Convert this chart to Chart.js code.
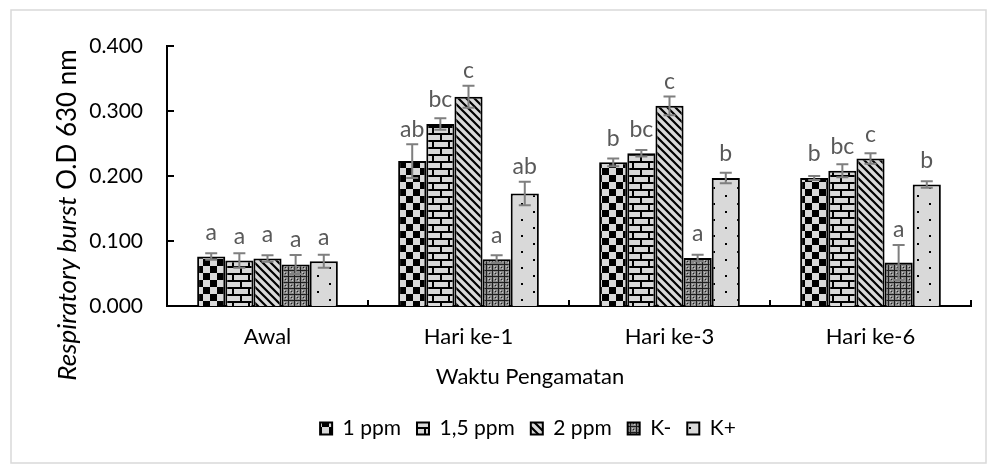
<!DOCTYPE html>
<html>
<head>
<meta charset="utf-8">
<script src="https://cdn.jsdelivr.net/npm/chart.js@4.4.0/dist/chart.umd.min.js"></script>
<style>
  html, body { margin: 0; padding: 0; background: #fff; }
  #wrap { width: 997px; height: 465px; }
</style>
</head>
<body>
<div id="wrap"><canvas id="chart" width="997" height="465"></canvas></div>
<script>
// data
const categories = ['Awal', 'Hari ke-1', 'Hari ke-3', 'Hari ke-6'];
const seriesNames = ['1 ppm', '1,5 ppm', '2 ppm', 'K-', 'K+'];

const ppm1   = [0.076, 0.223, 0.221, 0.197];
const ppm15  = [0.070, 0.280, 0.235, 0.208];
const ppm2   = [0.073, 0.322, 0.308, 0.227];
const kMinus = [0.064, 0.072, 0.074, 0.067];
const kPlus  = [0.069, 0.173, 0.197, 0.187];

const err1      = [0.005, 0.026, 0.006, 0.003];
const err15     = [0.011, 0.009, 0.005, 0.010];
const err2      = [0.005, 0.017, 0.0145, 0.008];
const errKMinus = [0.0146, 0.006, 0.005, 0.027];
const errKPlus  = [0.010, 0.018, 0.008, 0.005];

const lbl1      = ['a', 'ab', 'b', 'b'];
const lbl15     = ['a', 'bc', 'bc', 'bc'];
const lbl2      = ['a', 'c', 'c', 'c'];
const lblKMinus = ['a', 'a', 'a', 'a'];
const lblKPlus  = ['a', 'ab', 'b', 'b'];

const yTicks = [0, 0.1, 0.2, 0.3, 0.4];

const FONT = 'Lato';
const LIGHT = '#d9d9d9';

// fill patterns
function makePattern(w, h, draw) {
    const c = document.createElement('canvas');
    c.width = w; c.height = h;
    const g = c.getContext('2d');
    draw(g, w, h);
    return g.createPattern(c, 'repeat');
}

const patChecker = makePattern(14, 14, (g) => {
    g.fillStyle = LIGHT; g.fillRect(0, 0, 14, 14);
    g.fillStyle = '#000';
    g.fillRect(0, 0, 7, 7);
    g.fillRect(7, 7, 7, 7);
});

const patBrick = makePattern(16, 14, (g) => {
    g.fillStyle = LIGHT; g.fillRect(0, 0, 16, 14);
    g.fillStyle = '#000';
    g.fillRect(0, 0, 16, 2);
    g.fillRect(0, 7, 16, 2);
    g.fillRect(0, 0, 2, 7);
    g.fillRect(8, 7, 2, 7);
});

const patDiag = makePattern(8, 8, (g) => {
    g.fillStyle = LIGHT; g.fillRect(0, 0, 8, 8);
    g.strokeStyle = '#000'; g.lineWidth = 2.2;
    g.beginPath();
    g.moveTo(-2, -2); g.lineTo(10, 10);
    g.moveTo(-2, 6); g.lineTo(2, 10);
    g.moveTo(6, -2); g.lineTo(10, 2);
    g.stroke();
});

const patSphere = makePattern(6, 6, (g) => {
    g.fillStyle = '#8a8a8a'; g.fillRect(0, 0, 6, 6);
    g.fillStyle = '#1e1e1e';
    g.fillRect(0, 0, 6, 1);
    g.fillRect(0, 0, 1, 6);
    g.fillRect(3, 3, 1, 1);
    g.fillStyle = '#c8c8c8';
    g.fillRect(2, 2, 1, 1);
    g.fillRect(4, 4, 1, 1);
});

const patDots = makePattern(24, 16, (g) => {
    g.fillStyle = LIGHT; g.fillRect(0, 0, 24, 16);
    g.fillStyle = '#000';
    g.fillRect(5, 3, 2, 2);
    g.fillRect(17, 11, 2, 2);
});

const values   = [ppm1, ppm15, ppm2, kMinus, kPlus];
const errors   = [err1, err15, err2, errKMinus, errKPlus];
const letters  = [lbl1, lbl15, lbl2, lblKMinus, lblKPlus];
const patterns = [patChecker, patBrick, patDiag, patSphere, patDots];

const datasets = seriesNames.map((name, i) => ({
    label: name,
    data: values[i],
    backgroundColor: patterns[i],
    borderColor: '#000',
    borderWidth: 2,
    borderSkipped: 'bottom',
    categoryPercentage: 0.7,
    barPercentage: 1.0
}));

// error bars, significance letters, inner ticks, frame and titles
const decorPlugin = {
    id: 'decor',
    beforeDraw(chart) {
        const c = chart.ctx;
        c.save();
        c.fillStyle = '#fff';
        c.fillRect(0, 0, chart.width, chart.height);
        c.strokeStyle = '#d9d9d9';
        c.lineWidth = 1.5;
        c.strokeRect(11, 10, chart.width - 22, chart.height - 12);
        c.restore();
    },
    afterDatasetsDraw(chart) {
        const c = chart.ctx;
        const y = chart.scales.y;
        c.save();
        chart.data.datasets.forEach((ds, di) => {
            const meta = chart.getDatasetMeta(di);
            meta.data.forEach((bar, i) => {
                const v = ds.data[i];
                const e = errors[di][i];
                const top = y.getPixelForValue(v + e);
                const bottom = y.getPixelForValue(v - e);
                c.strokeStyle = '#7f7f7f';
                c.lineWidth = 2;
                c.beginPath();
                c.moveTo(bar.x, top); c.lineTo(bar.x, bottom);
                c.moveTo(bar.x - 6, top); c.lineTo(bar.x + 6, top);
                c.moveTo(bar.x - 6, bottom); c.lineTo(bar.x + 6, bottom);
                c.stroke();

                const ly = Math.min(bar.y - 24, top - 15);
                c.fillStyle = '#595959';
                c.font = '23px ' + FONT;
                c.textAlign = 'center';
                c.textBaseline = 'middle';
                c.fillText(letters[di][i], bar.x, ly);
            });
        });
        c.restore();
    },
    afterDraw(chart) {
        const c = chart.ctx;
        const x = chart.scales.x;
        const y = chart.scales.y;
        const area = chart.chartArea;
        c.save();
        c.strokeStyle = '#000';
        c.lineWidth = 2;
        c.beginPath();
        yTicks.slice(1).forEach(t => {
            const py = y.getPixelForValue(t);
            c.moveTo(area.left, py); c.lineTo(area.left + 7, py);
        });
        for (let i = 1; i <= categories.length; i++) {
            const px = x.getPixelForValue(i - 0.5);
            c.moveTo(px, area.bottom); c.lineTo(px, area.bottom - 6);
        }
        c.stroke();

        // y title: italic part + normal part
        const it = 'Respiratory burst';
        const nt = ' O.D 630 nm';
        c.fillStyle = '#000';
        c.translate(76, 215);
        c.rotate(-Math.PI / 2);
        c.textBaseline = 'alphabetic';
        c.textAlign = 'left';
        c.font = 'italic 26px ' + FONT;
        const w1 = c.measureText(it).width;
        c.font = '26px ' + FONT;
        const w2 = c.measureText(nt).width;
        const sx = -(w1 + w2) / 2;
        c.font = 'italic 26px ' + FONT;
        c.fillText(it, sx, 0);
        c.font = '26px ' + FONT;
        c.fillText(nt, sx + w1, 0);
        c.restore();

        // x title
        c.save();
        c.fillStyle = '#000';
        c.font = '22px ' + FONT;
        c.textAlign = 'center';
        c.textBaseline = 'alphabetic';
        c.fillText('Waktu Pengamatan', 530, 384);
        c.restore();
    }
};

Chart.defaults.font.family = FONT;

new Chart(document.getElementById('chart'), {
    type: 'bar',
    data: { labels: categories, datasets: datasets },
    options: {
        responsive: false,
        animation: false,
        layout: { padding: { top: 46, right: 26, bottom: 16, left: 85 } },
        plugins: {
            legend: {
                position: 'bottom',
                labels: {
                    boxWidth: 12,
                    boxHeight: 12,
                    padding: 16,
                    color: '#000',
                    font: { size: 21 }
                }
            },
            tooltip: { enabled: false }
        },
        scales: {
            x: {
                grid: { display: false },
                border: { display: true, color: '#000', width: 2 },
                ticks: { color: '#000', font: { size: 22 }, padding: 10 },
                afterFit(s) { s.height = 96; }
            },
            y: {
                min: 0,
                max: 0.4,
                grid: { display: false, drawTicks: false },
                border: { display: true, color: '#000', width: 2 },
                ticks: {
                    stepSize: 0.1,
                    color: '#000',
                    font: { size: 21 },
                    padding: 24,
                    callback: (v) => Number(v).toFixed(3)
                },
                afterFit(s) { s.width = 82; }
            }
        }
    },
    plugins: [decorPlugin]
});
</script>
</body>
</html>
